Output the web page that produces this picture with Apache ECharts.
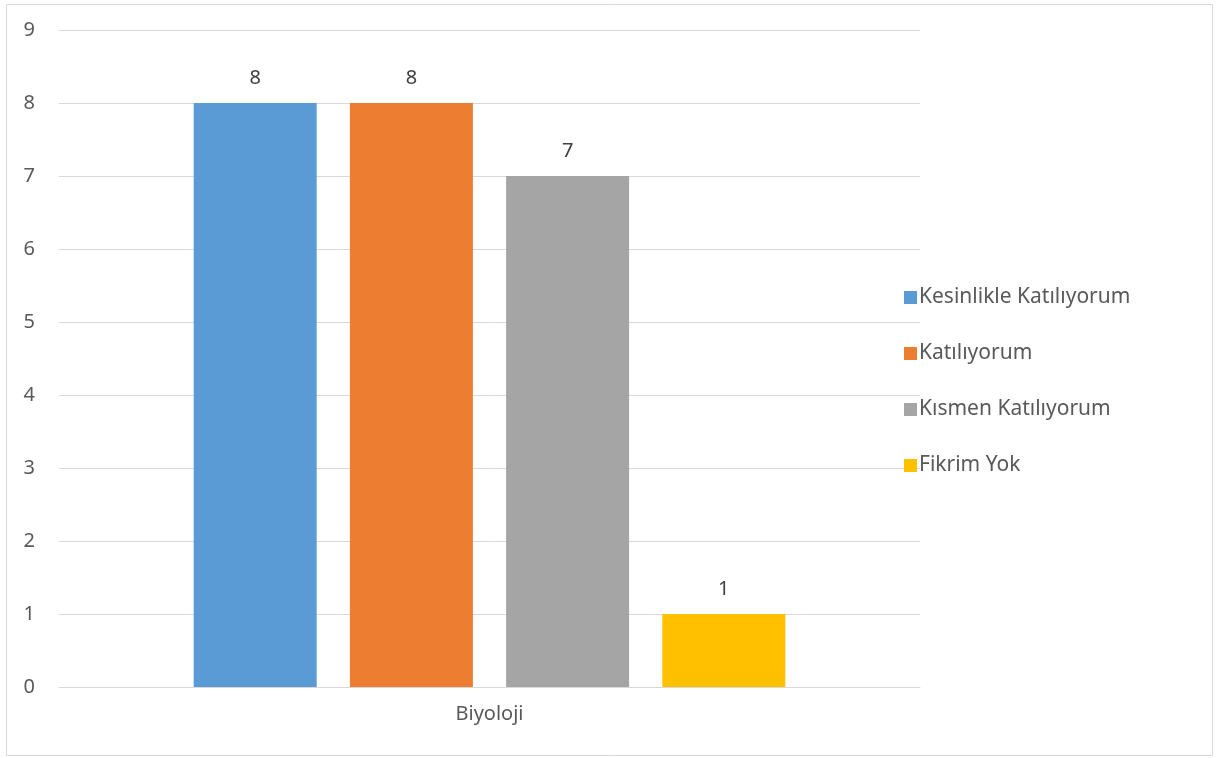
<!DOCTYPE html>
<html><head><meta charset="utf-8">
<script src="https://cdn.jsdelivr.net/npm/echarts@6/dist/echarts.min.js"></script>
<style>html,body{margin:0;padding:0;background:#fff}#c{width:1217px;height:758px}</style>
</head><body><div id="c"></div>
<script>
const categories = ['Biyoloji'];
const seriesNames = ['Kesinlikle Katılıyorum', 'Katılıyorum', 'Kısmen Katılıyorum', 'Fikrim Yok'];
const seriesValues = [[8], [8], [7], [1]];
const colors = ['#5B9BD5', '#ED7D31', '#A5A5A5', '#FFC000'];
const yTicks = [0, 1, 2, 3, 4, 5, 6, 7, 8, 9];

const font = '"Noto Sans", "Open Sans", sans-serif';
const chart = echarts.init(document.getElementById('c'), null, {renderer: 'canvas'});
chart.setOption({
  animation: false,
  backgroundColor: '#fff',
  textStyle: {fontFamily: font},
  graphic: [{type: 'rect', shape: {x: 6.5, y: 4.5, width: 1206, height: 751}, style: {fill: 'none', stroke: '#d9d9d9', lineWidth: 1}, silent: true}],
  grid: {left: 59, right: 297, top: 30, bottom: 71, containLabel: false},
  legend: {
    orient: 'vertical', left: 899, top: 282, itemWidth: 13, itemHeight: 13, itemGap: 35,
    icon: 'rect',
    textStyle: {fontSize: 21, color: '#595959', lineHeight: 21, fontFamily: font, padding: [0, 0, 0, -3]},
    data: seriesNames
  },
  xAxis: {
    type: 'category', data: categories,
    axisLine: {show: true, lineStyle: {color: '#d9d9d9', width: 1}},
    axisTick: {show: false},
    axisLabel: {fontSize: 20, color: '#595959', margin: 17, fontFamily: font}
  },
  yAxis: {
    type: 'value', min: yTicks[0], max: yTicks[yTicks.length - 1], interval: 1,
    axisLine: {show: false}, axisTick: {show: false},
    splitLine: {lineStyle: {color: '#d9d9d9', width: 1}},
    axisLabel: {fontSize: 20, color: '#595959', margin: 24, fontFamily: font}
  },
  series: seriesNames.map((n, i) => ({
    name: n, type: 'bar', data: seriesValues[i], barWidth: 123, barGap: '27%',
    itemStyle: {color: colors[i]},
    label: {show: true, position: 'top', distance: 15, fontSize: 20, color: '#404040', fontFamily: font}
  }))
});
</script></body></html>
